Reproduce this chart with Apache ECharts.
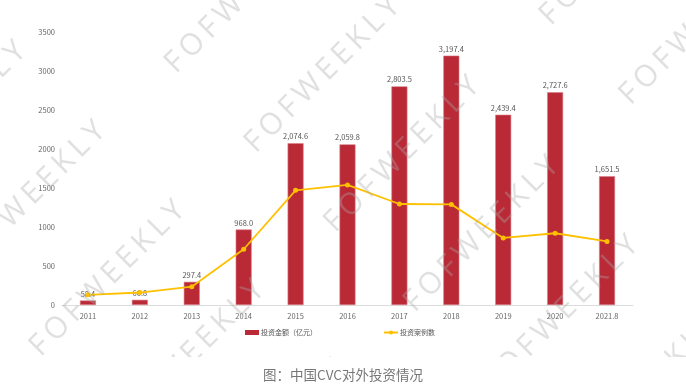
<!DOCTYPE html>
<html><head><meta charset="utf-8">
<script src="https://cdn.jsdelivr.net/npm/echarts@6/dist/echarts.min.js"></script>
<style>html,body{margin:0;padding:0;background:#fff}#c{width:686px;height:392px}</style>
</head><body><div id="c"></div>
<script>
const categories = ['2011','2012','2013','2014','2015','2016','2017','2018','2019','2020','2021.8'];
const amountValues = [58.4, 66.8, 297.4, 968.0, 2074.6, 2059.8, 2803.5, 3197.4, 2439.4, 2727.6, 1651.5];
const caseValues = [130, 160, 235, 715, 1470, 1540, 1295, 1290, 860, 920, 815];
const yTicks = [0, 500, 1000, 1500, 2000, 2500, 3000, 3500];
const seriesNames = ['投资金额（亿元）', '投资案例数'];
const titleText = '图：中国CVC对外投资情况';
const watermarkText = 'FOFWEEKLY';

const FONT = '"Noto Sans CJK SC", "Noto Sans", sans-serif';
const chart = echarts.init(document.getElementById('c'));

// watermark lattice (decoration)
const wm = [];
const rows = [[-121, 48], [175, 56], [474, 62]];
const r2 = Math.SQRT2;
rows.forEach(([d, s0]) => {
  for (let k = -1; k < 9; k++) {
    const s = s0 + k * 112.5;
    const x = (s + d) / r2, y = (s - d) / r2;
    if (x < -150 || x > 850 || y < -150 || y > 520) continue;
    wm.push({
      type: 'text', x: x, y: y, rotation: Math.PI / 4, z: 50, silent: true,
      style: { text: watermarkText.split('').join('\u2009'), font: '30px "Open Sans", sans-serif',
        fill: 'rgba(170,170,170,0.36)', align: 'center', verticalAlign: 'middle' }
    });
  }
});
wm.push({ type: 'rect', shape: { x: 0, y: 357, width: 686, height: 40 }, style: { fill: '#fff' }, z: 51, silent: true });

chart.setOption({
  animation: false,
  grid: { left: 62, right: 53, top: 32, bottom: 87 },
  legend: {
    top: 324, left: 240, itemGap: 66, itemWidth: 14, itemHeight: 5,
    textStyle: { fontSize: 7, color: '#555', fontFamily: FONT, padding: [0, 0, 0, -3] },
    data: [{ name: seriesNames[0], icon: 'rect', itemStyle: { borderWidth: 0 } }, { name: seriesNames[1] }]
  },
  title: {
    text: titleText, left: 'center', top: 363, z: 60,
    textStyle: { fontSize: 13.5, fontWeight: 'normal', color: '#777', fontFamily: FONT }
  },
  xAxis: {
    type: 'category', data: categories,
    axisLine: { lineStyle: { color: '#dcdcdc' } }, axisTick: { show: false },
    axisLabel: { fontSize: 7.5, color: '#666', fontFamily: FONT, margin: 7 }
  },
  yAxis: {
    type: 'value', min: yTicks[0], max: yTicks[yTicks.length - 1], interval: yTicks[1] - yTicks[0],
    axisLine: { show: false }, axisTick: { show: false }, splitLine: { show: false },
    axisLabel: { fontSize: 7.5, color: '#666', fontFamily: FONT, margin: 7, formatter: v => String(v) }
  },
  series: [
    { name: seriesNames[0], type: 'bar', data: amountValues, barWidth: 16,
      itemStyle: { color: '#BA2936', borderColor: '#D9808A', borderWidth: 0.6 },
      label: { show: true, position: 'top', fontSize: 7.5, color: '#555', fontFamily: FONT, distance: 3,
        formatter: p => p.value.toLocaleString('en-US', { minimumFractionDigits: 1, maximumFractionDigits: 1 }) } },
    { name: seriesNames[1], type: 'line', data: caseValues, symbol: 'circle', symbolSize: 5,
      lineStyle: { color: '#FFC000', width: 1.8 }, itemStyle: { color: '#FFC000' } }
  ],
  graphic: wm
});
</script></body></html>
